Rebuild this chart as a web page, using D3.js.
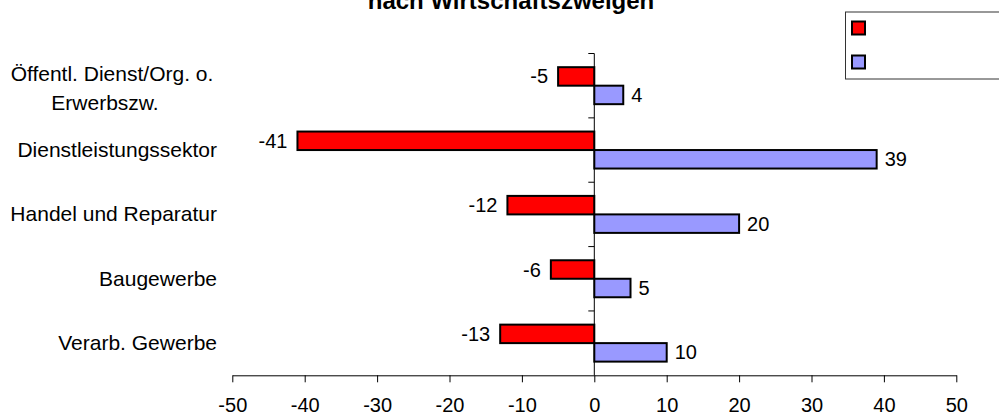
<!DOCTYPE html>
<html>
<head>
<meta charset="utf-8">
<script src="https://cdn.jsdelivr.net/npm/d3@7"></script>
<style>
  body { margin: 0; background: #fff; }
  svg { display: block; font-family: "Liberation Sans", Arial, sans-serif; }
</style>
</head>
<body>
<svg id="chart" width="999" height="414"></svg>
<script>
// data
let categories = [
  ["Öffentl. Dienst/Org. o.", "Erwerbszw."],
  ["Dienstleistungssektor"],
  ["Handel und Reparatur"],
  ["Baugewerbe"],
  ["Verarb. Gewerbe"]
];
let seriesKeys = ["neg", "pos"];
let negValues = [-5, -41, -12, -6, -13];
let posValues = [4, 39, 20, 5, 10];
let seriesColors = ["#ff0000", "#9999ff"];
let xTicks = [-50, -40, -30, -20, -10, 0, 10, 20, 30, 40, 50];
let title = "nach Wirtschaftszweigen";

let catNames = categories.map(function(c) { return c.join(" "); });
let rows = catNames.map(function(name, i) {
  return {name: name, lines: categories[i], neg: negValues[i], pos: posValues[i]};
});

// plot area
let plot = {left: 232.3, right: 956.3, top: 53.5, bottom: 375.3};

let svg = d3.select("#chart");

let x = d3.scaleLinear().domain([-50, 50]).range([plot.left, plot.right]);
let y = d3.scaleBand().domain(catNames).range([plot.top, plot.bottom]);
let y1 = d3.scaleBand().domain(seriesKeys).range([0, y.bandwidth()]).paddingOuter(0.74);
let color = d3.scaleOrdinal().domain(seriesKeys).range(seriesColors);

// title (first line is cut off in the picture)
svg.append("text")
    .attr("x", 511)
    .attr("y", 9)
    .attr("text-anchor", "middle")
    .style("font-size", "24px")
    .style("font-weight", "bold")
    .text(title);

// bars
let groups = svg.selectAll("g.cat")
  .data(rows)
  .enter().append("g")
    .attr("class", "cat")
    .attr("transform", function(d) { return "translate(0," + y(d.name) + ")"; });

groups.selectAll("rect")
  .data(function(d) { return seriesKeys.map(function(k) { return {key: k, value: d[k]}; }); })
  .enter().append("rect")
    .attr("x", function(d) { return x(Math.min(0, d.value)); })
    .attr("y", function(d) { return y1(d.key); })
    .attr("width", function(d) { return Math.abs(x(d.value) - x(0)); })
    .attr("height", y1.bandwidth())
    .attr("fill", function(d) { return color(d.key); })
    .attr("stroke", "#000")
    .attr("stroke-width", 2);

// value labels
groups.selectAll("text.val")
  .data(function(d) { return seriesKeys.map(function(k) { return {key: k, value: d[k]}; }); })
  .enter().append("text")
    .attr("class", "val")
    .attr("x", function(d) { return d.value < 0 ? x(d.value) - 10 : x(d.value) + 8; })
    .attr("y", function(d) { return y1(d.key) + y1.bandwidth() / 2; })
    .attr("dy", "0.35em")
    .attr("text-anchor", function(d) { return d.value < 0 ? "end" : "start"; })
    .style("font-size", "20px")
    .text(function(d) { return d.value; });

// category labels
rows.forEach(function(d) {
  let cy = y(d.name) + y.bandwidth() / 2;
  if (d.lines.length === 1) {
    svg.append("text")
        .attr("x", 217)
        .attr("y", cy + 7)
        .attr("text-anchor", "end")
        .style("font-size", "21px")
        .text(d.lines[0]);
  } else {
    svg.append("text")
        .attr("x", 112)
        .attr("y", cy - 5)
        .attr("text-anchor", "middle")
        .style("font-size", "21px")
        .text(d.lines[0]);
    svg.append("text")
        .attr("x", 105)
        .attr("y", cy + 24)
        .attr("text-anchor", "middle")
        .style("font-size", "21px")
        .text(d.lines[1]);
  }
});

// zero line with ticks at category boundaries
svg.append("line")
    .attr("x1", x(0)).attr("x2", x(0))
    .attr("y1", plot.top).attr("y2", plot.bottom)
    .attr("stroke", "#000");

let bounds = catNames.map(function(c) { return y(c); });
svg.selectAll("line.cattick")
  .data(bounds)
  .enter().append("line")
    .attr("class", "cattick")
    .attr("x1", x(0) - 6).attr("x2", x(0))
    .attr("y1", function(d) { return d; })
    .attr("y2", function(d) { return d; })
    .attr("stroke", "#000");

// bottom axis
let xAxis = svg.append("g")
    .attr("transform", "translate(0," + plot.bottom + ")")
    .call(d3.axisBottom(x)
      .tickValues(xTicks)
      .tickFormat(function(d) { return String(d); })
      .tickSize(7)
      .tickSizeOuter(0)
      .tickPadding(16));
xAxis.selectAll("text")
    .style("font-size", "20px")
    .style("font-family", "'Liberation Sans', Arial, sans-serif")
    .attr("fill", "#000");
xAxis.selectAll("line, path").attr("stroke", "#000");

// legend (its labels are outside the picture)
let legend = svg.append("g");
legend.append("rect")
    .attr("x", 845.5).attr("y", 12)
    .attr("width", 200).attr("height", 67)
    .attr("fill", "#fff")
    .attr("stroke", "#333");
legend.selectAll("rect.sw")
  .data(seriesKeys)
  .enter().append("rect")
    .attr("class", "sw")
    .attr("x", 852)
    .attr("y", function(d, i) { return 21.5 + i * 34; })
    .attr("width", 13).attr("height", 13)
    .attr("fill", function(d) { return color(d); })
    .attr("stroke", "#000")
    .attr("stroke-width", 2);
</script>
</body>
</html>
